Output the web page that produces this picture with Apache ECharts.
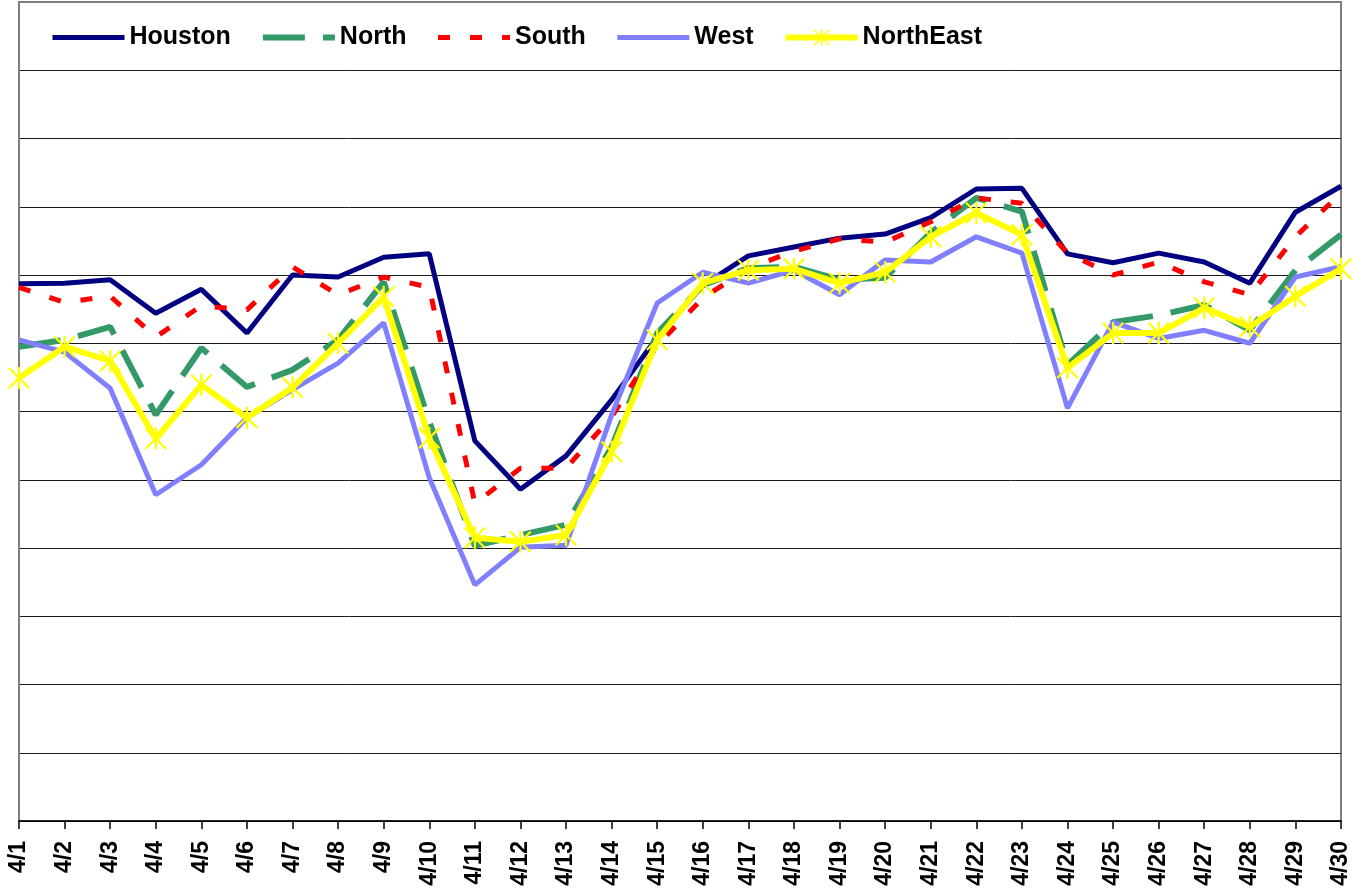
<!DOCTYPE html>
<html>
<head>
<meta charset="utf-8">
<script src="https://cdn.jsdelivr.net/npm/echarts@6/dist/echarts.min.js"></script>
<style>
  html, body { margin: 0; padding: 0; background: #fff; }
  #main { width: 1372px; height: 894px; }
</style>
</head>
<body>
<div id="main"></div>
<script>
const days = ['4/1','4/2','4/3','4/4','4/5','4/6','4/7','4/8','4/9','4/10',
  '4/11','4/12','4/13','4/14','4/15','4/16','4/17','4/18','4/19','4/20',
  '4/21','4/22','4/23','4/24','4/25','4/26','4/27','4/28','4/29','4/30'];

const houston = [7.87,7.88,7.93,7.44,7.79,7.15,8.00,7.97,8.26,8.31,
  5.57,4.86,5.35,6.17,7.09,7.85,8.28,8.41,8.54,8.60,
  8.84,9.26,9.27,8.31,8.18,8.32,8.19,7.88,8.92,9.30];
const north = [6.95,7.05,7.24,5.95,6.93,6.36,6.61,7.05,7.90,5.85,
  4.03,4.19,4.34,5.48,7.15,7.85,8.10,8.12,7.93,7.96,
  8.62,9.13,8.93,6.68,7.31,7.41,7.56,7.19,8.07,8.59];
const south = [7.82,7.60,7.69,7.09,7.55,7.49,8.12,7.71,7.97,7.82,
  4.65,5.17,5.17,5.92,6.97,7.66,8.10,8.35,8.53,8.48,
  8.78,9.13,9.05,8.32,8.00,8.19,7.90,7.71,8.56,9.20];
const west = [7.05,6.87,6.34,4.78,5.22,5.91,6.32,6.71,7.30,5.03,
  3.46,4.01,4.04,5.95,7.59,8.04,7.88,8.07,7.71,8.22,
  8.19,8.56,8.32,6.05,7.31,7.07,7.19,7.00,7.97,8.12];
const northEast = [6.49,6.95,6.74,5.60,6.39,5.91,6.35,7.00,7.68,5.61,
  4.15,4.09,4.19,5.41,7.05,7.88,8.07,8.09,7.88,8.04,
  8.56,8.91,8.59,6.64,7.15,7.15,7.52,7.24,7.69,8.09];

const seriesNames = ['Houston', 'North', 'South', 'West', 'NorthEast'];

// asterisk marker (vertical bar + X)
const starPath = 'path://M45 0L55 0L55 100L45 100Z M0 7L7 0L100 93L93 100Z M93 0L100 7L7 100L0 93Z';

// split line colours: dark lines, grey for the top border line
const gridColors = [];
for (let i = 0; i < 12; i++) gridColors.push('#1a1a1a');
gridColors.push('#808080');

const font = "'Liberation Sans', Arial, sans-serif";

// legend entries: only NorthEast shows a marker
const legendData = seriesNames.map(n => n === 'NorthEast'
  ? { name: n, icon: 'inherit' }
  : { name: n, itemStyle: { opacity: 0, color: 'rgba(0,0,0,0)', borderWidth: 0 } });

const chart = echarts.init(document.getElementById('main'));
chart.setOption({
  animation: false,
  backgroundColor: '#fff',
  grid: {
    left: 19, right: 31, top: 2, bottom: 73,
    show: true, borderColor: '#808080', borderWidth: 2
  },
  legend: {
    left: 45, top: 20,
    itemWidth: 72, itemHeight: 20, itemGap: 29,
    lineStyle: { width: 'inherit' },
    textStyle: { fontFamily: font, fontSize: 25, fontWeight: 'bold', color: '#000' },
    data: legendData
  },
  xAxis: {
    type: 'category',
    data: days,
    boundaryGap: false,
    axisLine: { lineStyle: { color: '#000', width: 1.5 } },
    axisTick: { show: true, length: 8, lineStyle: { color: '#000', width: 1.5 } },
    axisLabel: {
      interval: 0, rotate: 90, margin: 20,
      fontFamily: font, fontSize: 23, fontWeight: 'bold', color: '#000'
    }
  },
  yAxis: {
    type: 'value',
    min: 0, max: 12, interval: 1,
    axisLabel: { show: false },
    axisTick: { show: false },
    axisLine: { show: true, lineStyle: { color: '#808080', width: 2 } },
    splitLine: { lineStyle: { color: gridColors, width: 1 } }
  },
  series: [
    {
      name: 'Houston', type: 'line', data: houston,
      symbol: 'none', color: '#000080',
      lineStyle: { color: '#000080', width: 5 }
    },
    {
      name: 'North', type: 'line', data: north,
      symbol: 'none', color: '#339966',
      lineStyle: { color: '#339966', width: 6, type: [42, 18] }
    },
    {
      name: 'South', type: 'line', data: south,
      symbol: 'none', color: '#ff0000',
      lineStyle: { color: '#ff0000', width: 5, type: [12, 20] }
    },
    {
      name: 'West', type: 'line', data: west,
      symbol: 'none', color: '#8080ff',
      lineStyle: { color: '#8080ff', width: 5 }
    },
    {
      name: 'NorthEast', type: 'line', data: northEast,
      symbol: starPath, symbolSize: 22, color: '#ffff00',
      itemStyle: { color: '#ffff00' },
      lineStyle: { color: '#ffff00', width: 6 }
    }
  ]
});
</script>
</body>
</html>
